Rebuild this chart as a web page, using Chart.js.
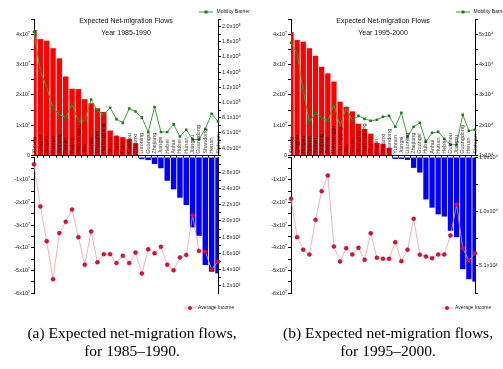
<!DOCTYPE html>
<html>
<head>
<meta charset="utf-8">
<script src="https://cdn.jsdelivr.net/npm/chart.js@4.4.0/dist/chart.umd.min.js"></script>
<style>
  html, body { margin: 0; padding: 0; background: #fff; overflow: hidden; }
  #page { position: relative; width: 503px; height: 369px; overflow: hidden; }
  canvas { position: absolute; }
  .caption {
    position: absolute; width: 260px; text-align: center;
    font-family: "Liberation Serif", "Times New Roman", serif;
    font-size: 15.5px; line-height: 18px; color: #000;
  }
</style>
</head>
<body>
<div id="page">
  <canvas id="topA" width="257" height="160" style="left:0px;top:0px"></canvas>
  <canvas id="botA" width="257" height="170" style="left:0px;top:150px"></canvas>
  <canvas id="topB" width="257" height="160" style="left:257px;top:0px"></canvas>
  <canvas id="botB" width="257" height="170" style="left:257px;top:150px"></canvas>
  <div class="caption" style="left:2px;top:324px">(a) Expected net-migration flows,<br>for 1985–1990.</div>
  <div class="caption" style="left:258px;top:324px">(b) Expected net-migration flows,<br>for 1995–2000.</div>
</div>
<script>
// Panel (a): 1985-1990, provinces ordered by expected net migration
const provincesA = ['Xizang', 'Qinghai', 'Ningxia', 'Hainan', 'Xinjiang', 'Tianjin', 'Beijing', 'Neimenggu',
  'Jilin', 'Gansu', 'Shanghai', 'Heilongjiang', 'Shanxi', 'Yunnan', 'Fujian', 'Guizhou', 'Shaanxi',
  'Liaoning', 'Guangxi', 'Zhejiang', 'Jiangxi', 'Hebei', 'Anhui', 'Hubei', 'Hunan', 'Jiangsu',
  'Guangdong', 'Shandong', 'Henan', 'Sichuan'];
const flowsA = [4.00e7, 3.71e7, 3.66e7, 3.42e7, 3.10e7, 2.52e7, 2.13e7, 2.12e7, 1.80e7, 1.67e7,
  1.51e7, 1.39e7, 0.80e7, 0.63e7, 0.59e7, 0.53e7, 0.40e7,
  -0.10e7, -0.14e7, -0.32e7, -0.51e7, -1.08e7, -1.47e7, -1.85e7, -2.18e7, -3.20e7, -3.58e7,
  -4.91e7, -5.21e7, -5.29e7];
const barrierA = [195000, 143000, 121000, 94000, 85000, 81000, 99000, 76000, 78000, 105000,
  90000, 85000, 94000, 79000, 74000, 93000, 89000, 81000, 62000, 95000,
  62000, 62000, 72000, 56000, 65000, 52000, 52000, 66000, 86000, 76000];
const incomeA = [2700, 2180, 1750, 1280, 1850, 1990, 2140, 1800, 1460, 1870,
  1490, 1590, 1590, 1480, 1570, 1480, 1610, 1350, 1650, 1600,
  1680, 1460, 1390, 1550, 1580, 2070, 1630, 1620, 1400, 1500];

// Panel (b): 1995-2000
const provincesB = ['Xizang', 'Qinghai', 'Ningxia', 'Hainan', 'Tianjin', 'Xinjiang', 'Beijing', 'Neimenggu',
  'Chongqing', 'Jilin', 'Gansu', 'Shanghai', 'Heilongjiang', 'Shanxi', 'Fujian', 'Shaanxi', 'Shandong',
  'Yunnan', 'Jiangxi', 'Liaoning', 'Zhejiang', 'Guangxi', 'Hubei', 'Anhui', 'Hunan', 'Hebei',
  'Guizhou', 'Jiangsu', 'Guangdong', 'Henan', 'Sichuan'];
const flowsB = [3.93e7, 3.68e7, 3.63e7, 3.42e7, 3.18e7, 2.83e7, 2.62e7, 2.36e7, 1.72e7, 1.55e7,
  1.41e7, 1.02e7, 0.85e7, 0.70e7, 0.41e7, 0.38e7, 0.25e7,
  -0.09e7, -0.09e7, -0.13e7, -0.49e7, -0.70e7, -1.91e7, -2.28e7, -2.58e7, -2.68e7, -3.32e7,
  -3.61e7, -5.05e7, -5.50e7, -5.61e7];
const barrierB = [47400, 44000, 31500, 21200, 24200, 22600, 21600, 26900, 19900, 25900,
  21600, 23200, 22200, 21600, 21900, 22900, 23200, 19600, 24200, 16300,
  19600, 20900, 14600, 17600, 17900, 15600, 13600, 13600, 23600, 18300, 18600];
const incomeB = [11510, 7820, 6610, 6150, 9490, 12240, 13750, 6920, 5480, 6760,
  6150, 6800, 5640, 8200, 5840, 5740, 5740, 7340, 5510, 6610,
  9590, 6130, 5960, 5800, 6150, 6150, 7980, 10960, 6760, 5580, 6280];

const FONT = '"Liberation Sans", Arial, "DejaVu Sans", sans-serif';
const SUP = { '0': '⁰', '1': '¹', '2': '²', '3': '³', '4': '⁴', '5': '⁵', '6': '⁶', '7': '⁷', '8': '⁸', '9': '⁹' };

function sci(v, exp, dec) {
  const pow = String(exp).split('').map(c => SUP[c]).join('');
  return (v / Math.pow(10, exp)).toFixed(dec) + 'x10' + pow;
}

// shared look of all value axes
function axis(position, min, max, step, callback, width) {
  return {
    position: position,
    min: min,
    max: max,
    border: { color: '#000', width: 1 },
    grid: { drawOnChartArea: false, tickLength: 3, color: '#000' },
    ticks: {
      stepSize: step, includeBounds: false, autoSkip: false, padding: 1,
      color: '#222', font: { family: FONT, size: 5.5 }, callback: callback
    },
    afterFit: a => { a.width = width; }
  };
}

// titles, province names and the little legends
const panelText = {
  id: 'panelText',
  afterDraw(chart, args, opts) {
    const { ctx, chartArea, scales } = chart;
    const right = chartArea.right;
    ctx.save();
    if (opts.names) {
      ctx.font = '5.5px ' + FONT;
      ctx.fillStyle = 'rgba(20,0,0,0.8)';
      ctx.textAlign = 'left';
      ctx.textBaseline = 'middle';
      opts.names.forEach((n, i) => {
        const x = scales.x.getPixelForValue(i);
        ctx.save();
        ctx.translate(x, chartArea.bottom - 2);
        ctx.rotate(-Math.PI / 2);
        ctx.fillText(n, 0, 0);
        ctx.restore();
      });
    }
    if (opts.title) {
      ctx.font = '7px ' + FONT;
      ctx.fillStyle = '#111';
      ctx.textAlign = 'center';
      ctx.textBaseline = 'middle';
      const cx = (chartArea.left + chartArea.right) / 2;
      ctx.fillText(opts.title[0], cx, 21);
      ctx.fillText(opts.title[1], cx, 33);
    }
    if (opts.legend === 'barrier') {
      const y = 12;
      ctx.strokeStyle = '#33a033';
      ctx.lineWidth = 1;
      ctx.beginPath();
      ctx.moveTo(right - 19, y);
      ctx.lineTo(right - 5, y);
      ctx.stroke();
      ctx.fillStyle = '#1f7a1f';
      ctx.fillRect(right - 13.5, y - 1.5, 3, 3);
      ctx.font = '5px ' + FONT;
      ctx.fillStyle = '#222';
      ctx.textAlign = 'left';
      ctx.textBaseline = 'middle';
      ctx.fillText('Mobility Barrier', right - 1.5, y);
    }
    if (opts.legend === 'income') {
      const y = chartArea.bottom + 15;
      ctx.strokeStyle = '#f4a0a0';
      ctx.lineWidth = 0.8;
      ctx.beginPath();
      ctx.moveTo(right - 34, y);
      ctx.lineTo(right - 22, y);
      ctx.stroke();
      ctx.fillStyle = '#dd1133';
      ctx.beginPath();
      ctx.arc(right - 28, y, 2, 0, Math.PI * 2);
      ctx.fill();
      ctx.font = '5px ' + FONT;
      ctx.fillStyle = '#222';
      ctx.textAlign = 'left';
      ctx.textBaseline = 'middle';
      ctx.fillText('Average Income', right - 20, y);
    }
    ctx.restore();
  }
};

const barClip = { left: 0, right: 0, top: false, bottom: false };

function makeTop(id, names, flows, barrier, title, rightAxis) {
  new Chart(document.getElementById(id), {
    data: {
      labels: names,
      datasets: [{
        type: 'line',
        label: 'Mobility Barrier',
        data: barrier,
        yAxisID: 'yR',
        order: 0,
        borderColor: '#3aa43a',
        borderWidth: 1,
        pointStyle: 'rect',
        pointRadius: 1.8,
        pointBackgroundColor: '#1f7a1f',
        pointBorderColor: '#1f7a1f',
        pointBorderWidth: 0,
        tension: 0
      }, {
        type: 'bar',
        label: 'Net migration',
        data: flows.map(v => v > 0 ? v : null),
        yAxisID: 'yL',
        order: 1,
        backgroundColor: '#ff0000',
        barPercentage: 0.86,
        categoryPercentage: 1,
        clip: barClip
      }]
    },
    options: {
      responsive: false,
      animation: false,
      layout: { padding: { top: 19, left: 0, right: 0, bottom: 0 } },
      plugins: {
        legend: { display: false },
        tooltip: { enabled: false },
        panelText: { names: names, title: title, legend: 'barrier' }
      },
      scales: {
        x: {
          type: 'category',
          offset: false,
          border: { color: '#000', width: 1 },
          grid: { drawOnChartArea: false, tickLength: 2, color: '#000' },
          ticks: { display: false },
          afterFit: a => { a.height = 4; }
        },
        yL: axis('left', 0, 4.35e7, 5e6,
          v => v === 0 ? '0' : (Math.round(v / 5e6) % 2 ? '' : sci(v, 7, 0)), 34),
        yR: rightAxis
      }
    },
    plugins: [panelText]
  });
}

function makeBottom(id, names, flows, income, leftMin, rightAxis) {
  new Chart(document.getElementById(id), {
    data: {
      labels: names,
      datasets: [{
        type: 'line',
        label: 'Average Income',
        data: income,
        yAxisID: 'yR',
        order: 0,
        borderColor: '#f4a0a0',
        borderWidth: 0.8,
        pointRadius: 2,
        pointBackgroundColor: '#dd1133',
        pointBorderColor: '#b0002a',
        pointBorderWidth: 0.5,
        tension: 0
      }, {
        type: 'bar',
        label: 'Net migration',
        data: flows.map(v => v < 0 ? v : null),
        yAxisID: 'yL',
        order: 1,
        backgroundColor: '#0000ff',
        barPercentage: 0.86,
        categoryPercentage: 1,
        clip: barClip
      }]
    },
    options: {
      responsive: false,
      animation: false,
      layout: { padding: { top: 7, left: 0, right: 0, bottom: 27 } },
      plugins: {
        legend: { display: false },
        tooltip: { enabled: false },
        panelText: { legend: 'income' }
      },
      scales: {
        x: { type: 'category', offset: false, display: false },
        yL: axis('left', leftMin, 0, 5e6,
          v => v === 0 ? '' : (Math.round(v / 5e6) % 2 ? '' : sci(v, 7, 0)), 34),
        yR: rightAxis
      }
    },
    plugins: [panelText]
  });
}

makeTop('topA', provincesA, flowsA, barrierA, ['Expected Net-migration Flows', 'Year 1985-1990'],
  axis('right', 30400, 212000, 10000,
    v => Math.round(v / 1e4) % 2 ? '' : (v >= 1e5 ? sci(v, 5, 1) : sci(v, 4, 1)), 39));
makeBottom('botA', provincesA, flowsA, incomeA, -6.18e7,
  axis('right', 1110, 2790, 100,
    v => Math.round(v / 100) % 2 ? '' : sci(v, 3, 1), 39));

makeTop('topB', provincesB, flowsB, barrierB, ['Expected Net-migration Flows', 'Year 1995-2000'],
  axis('right', 10000, 55300, 5000,
    v => Math.round(v / 5000) % 2 ? '' : sci(v, 4, 0), 39));
makeBottom('botB', provincesB, flowsB, incomeB, -6.12e7,
  axis('right', 2450, 15530, 2500,
    v => Math.round(v / 2500) % 2 ? '' : (v >= 1e4 ? sci(v, 4, 1) : sci(v, 3, 1)), 39));
</script>
</body>
</html>
